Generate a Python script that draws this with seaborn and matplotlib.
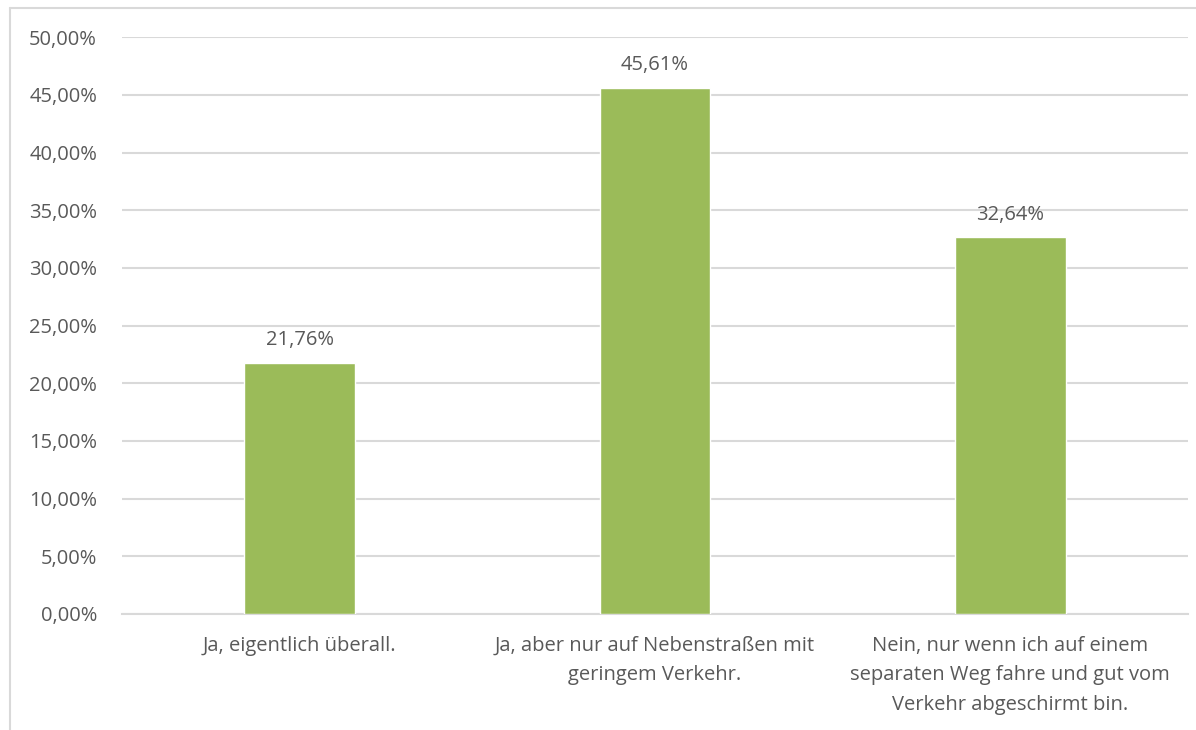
import matplotlib
matplotlib.use("Agg")
import matplotlib.pyplot as plt
from matplotlib.lines import Line2D
from matplotlib.ticker import FuncFormatter
import seaborn as sns
import pandas as pd

categories = [
    "Ja, eigentlich überall.",
    "Ja, aber nur auf Nebenstraßen mit\ngeringem Verkehr.",
    "Nein, nur wenn ich auf einem\nseparaten Weg fahre und gut vom\nVerkehr abgeschirmt bin.",
]
shares = [0.2176, 0.4561, 0.3264]

GREEN = "#9BBB59"
GRID = "#D9D9D9"
TEXT = "#595959"


def pct(v, _=None):
    return f"{v * 100:.2f}%".replace(".", ",")


def main():
    sns.set_style("white")
    plt.rcParams["font.family"] = ["Open Sans", "DejaVu Sans"]

    df = pd.DataFrame({"cat": categories, "share": shares})

    fig = plt.figure(figsize=(11.96, 7.30), dpi=100)
    ax = fig.add_axes([122 / 1196, 0.159, 1066 / 1196, 0.790])

    sns.barplot(data=df, x="cat", y="share", color=GREEN, width=0.312,
                saturation=1, ax=ax, zorder=3)

    ax.set_ylim(0, 0.5)
    ax.set_xlim(-0.5, 2.5)
    ax.set_yticks([i * 0.05 for i in range(11)])
    ax.yaxis.set_major_formatter(FuncFormatter(pct))
    ax.grid(axis="y", color=GRID, linewidth=1.5, zorder=0)
    ax.set_axisbelow(True)
    for s in ["top", "right", "left"]:
        ax.spines[s].set_visible(False)
    ax.spines["bottom"].set_color(GRID)
    ax.spines["bottom"].set_linewidth(1.5)
    ax.tick_params(axis="both", length=0, labelsize=14.5, colors=TEXT)
    ax.tick_params(axis="y", pad=18)
    ax.tick_params(axis="x", pad=16)
    for lbl in ax.get_xticklabels():
        lbl.set_linespacing(1.62)
    ax.set_xlabel("")
    ax.set_ylabel("")

    for i, v in enumerate(shares):
        ax.annotate(pct(v), (i, v), xytext=(0, 9), textcoords="offset points",
                    ha="center", va="bottom", fontsize=14.5, color=TEXT)

    # chart area frame (only left and top edge visible in crop)
    fig.add_artist(Line2D([10 / 1196, 10 / 1196], [0, 1 - 8 / 730],
                          transform=fig.transFigure, color=GRID, linewidth=1.5))
    fig.add_artist(Line2D([10 / 1196, 1], [1 - 8 / 730, 1 - 8 / 730],
                          transform=fig.transFigure, color=GRID, linewidth=1.5))

    fig.savefig("out.png", dpi=100)
    plt.close(fig)


if __name__ == "__main__":
    main()
